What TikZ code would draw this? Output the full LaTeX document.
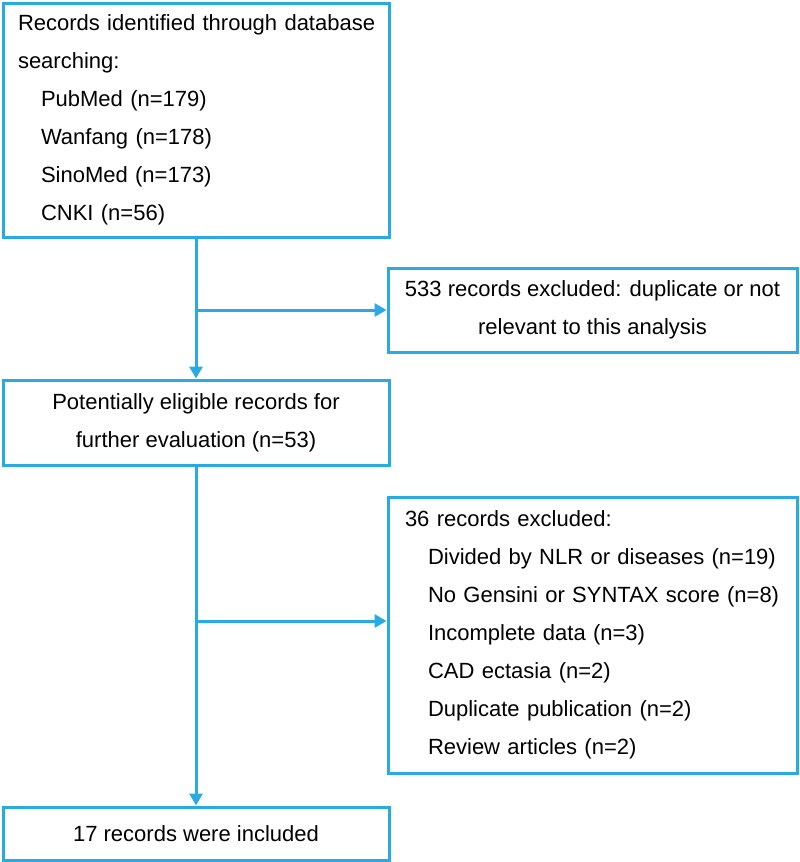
\documentclass[tikz,border=0pt]{standalone}
\usepackage{fontspec}
\setmainfont{Liberation Sans}
\usetikzlibrary{arrows.meta}
\definecolor{flowblue}{RGB}{41,171,226}
\tikzset{
  box/.style={draw=flowblue, line width=3pt, inner sep=0pt, font=\fontsize{22}{38}\selectfont},
  arr/.style={draw=flowblue, line width=3pt, -{Triangle[length=12pt,width=13pt]}}
}
\newcommand{\ind}{\hspace*{23pt}}

\begin{document}
\begin{tikzpicture}[x=1pt,y=-1pt]
\useasboundingbox (0,0) rectangle (800,862);
\node [box,minimum width=386,minimum height=234,text width=356,align=left] (a) at (196,120)
  {\mbox{Records identified through database}\\searching:\\\ind PubMed (n=179)\\\ind Wanfang (n=178)\\\ind SinoMed (n=173)\\\ind CNKI (n=56)};
\node [box,minimum width=409,minimum height=84,align=center] (b) at (592.5,310)
  {533 records excluded: duplicate or not\\relevant to this analysis};
\node [box,minimum width=386,minimum height=85,align=center] (c) at (196,422.5)
  {Potentially eligible records for\\further evaluation (n=53)};
\node [box,minimum width=409,minimum height=276,text width=375,align=left] (d) at (592.5,635)
  {36 records excluded:\\\ind Divided by NLR or diseases (n=19)\\\ind No Gensini or SYNTAX score (n=8)\\\ind Incomplete data (n=3)\\\ind CAD ectasia (n=2)\\\ind Duplicate publication (n=2)\\\ind Review articles (n=2)};
\node [box,minimum width=386,minimum height=53,align=center] (e) at (196,833.5)
  {17 records were included};
\coordinate (m) at (196,621);
\draw [arr] (a.south) -- (c.north);
\draw [arr] (a.south |- b.west) -- (b.west);
\draw [arr] (c.south) -- (e.north);
\draw [arr] (m) -- (m -| d.west);
\end{tikzpicture}
\end{document}
